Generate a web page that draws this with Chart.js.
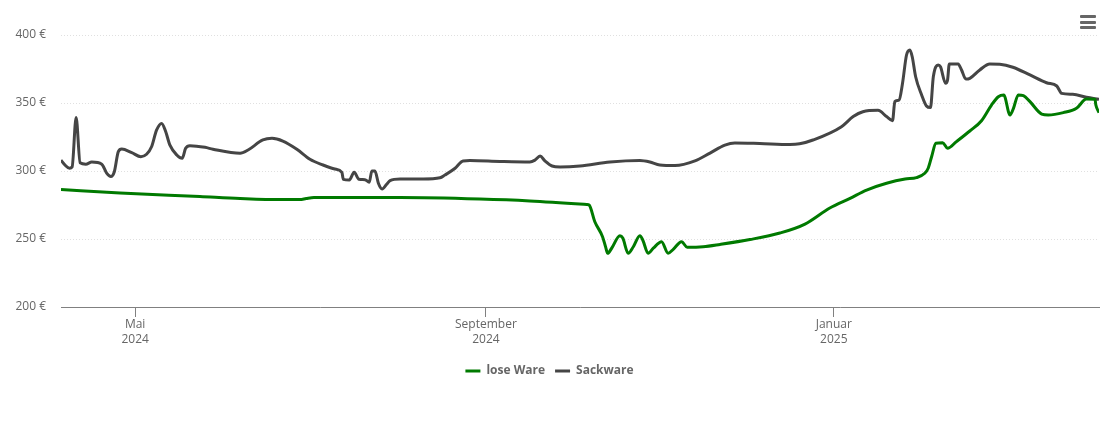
<!DOCTYPE html>
<html>
<head>
<meta charset="utf-8">
<script src="https://cdn.jsdelivr.net/npm/chart.js@4"></script>
<style>
    html, body { margin: 0; padding: 0; background: #fff; }
    #wrap { position: relative; width: 1110px; height: 422px; overflow: hidden; }
    #menu { position: absolute; left: 1080px; top: 15px; width: 16px; }
    #menu div { height: 3px; background: #666; border-radius: 1px; margin-bottom: 2.5px; }
</style>
</head>
<body>
<div id="wrap">
    <canvas id="myChart" width="1110" height="422"></canvas>
    <div id="menu"><div></div><div></div><div></div></div>
</div>
<script>
// x values are days since 2024-04-05
const looseName = 'lose Ware';
const looseDays = [0, 20.7, 48.7, 62.8, 76.8, 83.8, 86, 88.7, 118.9, 146.9, 164.4, 184.4, 185.2, 187.2, 189.9, 191, 191.7, 193.1, 196, 197, 198.9, 200.7, 203, 204, 205.9, 207.7, 210.6, 212.9, 214.7, 217.6, 219.6, 225.2, 231.1, 241.6, 252.1, 260.9, 269.6, 276.7, 282.5, 289.5, 296, 300, 302.9, 304.1, 305.3, 306.8, 309.2, 310.9, 314, 318.7, 322.8, 326.3, 328.7, 330.6, 332.8, 334, 335.7, 337.5, 339.8, 343.9, 346.2, 351.5, 356.1, 359.6, 362.6, 362.9, 364];
const looseValues = [286.4, 283.8, 281.2, 279.8, 279, 279, 279.8, 280.5, 280.5, 279.4, 278, 275.4, 275, 262.7, 251.7, 244, 239.5, 243.2, 252.4, 250.7, 239.5, 244.3, 252.4, 249.3, 239.5, 243.2, 248, 239.5, 242.4, 248, 243.9, 244.3, 246, 249.6, 254.4, 261, 272.8, 279.9, 286, 291, 294.1, 295.1, 298.3, 302, 310.5, 320.4, 320.8, 316.7, 321.6, 329.4, 337, 348.5, 354.6, 355.9, 341.2, 346.1, 355.9, 355.4, 351, 341.9, 341.2, 342.9, 346.1, 352.9, 352.7, 348.5, 342.9];

const sackName = 'Sackware';
const sackDays = [0, 1.4, 3, 3.9, 5.3, 6.7, 8.7, 10.8, 14.3, 16, 17.5, 18.7, 20.1, 21.3, 24.8, 28, 30, 31.8, 33.5, 35.3, 36.7, 38.2, 40.6, 42.5, 43.7, 45.2, 50.5, 53.3, 62.8, 65.6, 70.8, 74, 77.8, 82.7, 87.3, 91.9, 96, 98.5, 99, 101.1, 102.8, 104.5, 106.6, 108.1, 109, 110.1, 111.3, 112.6, 114.2, 115.4, 118.9, 127, 132.9, 134.6, 138.2, 141, 143.4, 153.9, 164.4, 166.2, 168, 169.7, 172.2, 175, 182, 192.5, 203, 206.5, 210, 215.3, 222.3, 227.6, 232.8, 236.3, 245, 255.6, 259, 263.7, 273.7, 277.8, 281.2, 286.5, 289.5, 291.6, 292.4, 293.9, 295.1, 296.5, 297.7, 298.5, 299.7, 301.8, 303.5, 304.9, 305.9, 307.6, 308.4, 310.2, 310.9, 311.5, 314.6, 315.8, 317.3, 318.7, 322.2, 325.7, 329.2, 333.8, 339.8, 345.6, 349.2, 350.9, 354.8, 359.6, 364];
const sackValues = [308, 304.4, 302, 303, 339.3, 306, 305, 306.6, 305, 298.5, 296, 299.5, 314.3, 316.2, 313.5, 310.5, 312.3, 318, 330, 335, 329, 319, 311.8, 309.3, 316.7, 318.6, 317.4, 316, 313, 315.4, 322.8, 324, 322, 316, 308.6, 304.4, 301.5, 299, 293.9, 293.4, 299, 293.9, 293.6, 291.7, 300, 300, 291, 286.8, 290.2, 292.9, 294.1, 294.1, 295, 297, 302, 307.4, 307.7, 307, 306.6, 308, 311, 307.4, 303.7, 303, 303.7, 306.6, 307.7, 306.6, 304.4, 304, 307.4, 313.2, 319, 320.6, 320.2, 319.5, 320, 322.8, 332.6, 340, 343.6, 344.6, 340, 337, 351, 352.2, 364.5, 385.3, 389, 384, 369.3, 355.9, 347.8, 346.6, 369.3, 378, 376.7, 364.5, 367, 378.7, 378.7, 374.3, 367.6, 368.1, 374.3, 378.7, 378.5, 376.3, 370.6, 364.9, 362.5, 357.1, 356.4, 354.2, 352.7];

const tickDays = [26, 149, 271];
const tickLabels = [['Mai', '2024'], ['September', '2024'], ['Januar', '2025']];
const yTicks = [200, 250, 300, 350, 400];

function toPoints(days, values) {
    return days.map((d, i) => ({ x: d, y: values[i] }));
}

const fontName = '"Open Sans", sans-serif';

new Chart(document.getElementById('myChart').getContext('2d'), {
    type: 'line',
    data: {
        datasets: [{
            label: looseName,
            data: toPoints(looseDays, looseValues),
            borderColor: '#007a00',
            backgroundColor: '#007a00',
            borderWidth: 3,
            pointRadius: 0,
            cubicInterpolationMode: 'monotone'
        }, {
            label: sackName,
            data: toPoints(sackDays, sackValues),
            borderColor: '#454545',
            backgroundColor: '#454545',
            borderWidth: 3,
            pointRadius: 0,
            cubicInterpolationMode: 'monotone'
        }]
    },
    options: {
        responsive: false,
        animation: false,
        layout: { padding: { top: 35, right: 11, bottom: 35, left: 0 } },
        plugins: {
            tooltip: { enabled: false },
            legend: {
                position: 'bottom',
                labels: {
                    usePointStyle: true,
                    pointStyle: 'line',
                    pointStyleWidth: 15,
                    padding: 10,
                    color: '#666',
                    font: { family: fontName, size: 12, weight: 'bold' }
                }
            }
        },
        scales: {
            x: {
                type: 'linear',
                min: 0,
                max: 364,
                afterBuildTicks: (axis) => { axis.ticks = tickDays.map((d) => ({ value: d })); },
                afterFit: (axis) => { axis.height = 48; },
                border: { color: '#808080', width: 1 },
                grid: { drawOnChartArea: false, drawTicks: true, tickLength: 10, color: '#808080' },
                ticks: {
                    autoSkip: false,
                    maxRotation: 0,
                    padding: 0,
                    color: '#666',
                    font: { family: fontName, size: 12, lineHeight: 1.25 },
                    callback: (value) => tickLabels[tickDays.indexOf(value)]
                }
            },
            y: {
                min: 200,
                max: 400,
                afterBuildTicks: (axis) => { axis.ticks = yTicks.map((v) => ({ value: v })); },
                afterFit: (axis) => { axis.width = 61; },
                border: { display: false, dash: [1, 2] },
                grid: { color: '#e0e0e0', drawTicks: false },
                ticks: {
                    padding: 15,
                    color: '#666',
                    font: { family: fontName, size: 12 },
                    callback: (value) => value + ' €'
                }
            }
        }
    }
});
</script>
</body>
</html>
